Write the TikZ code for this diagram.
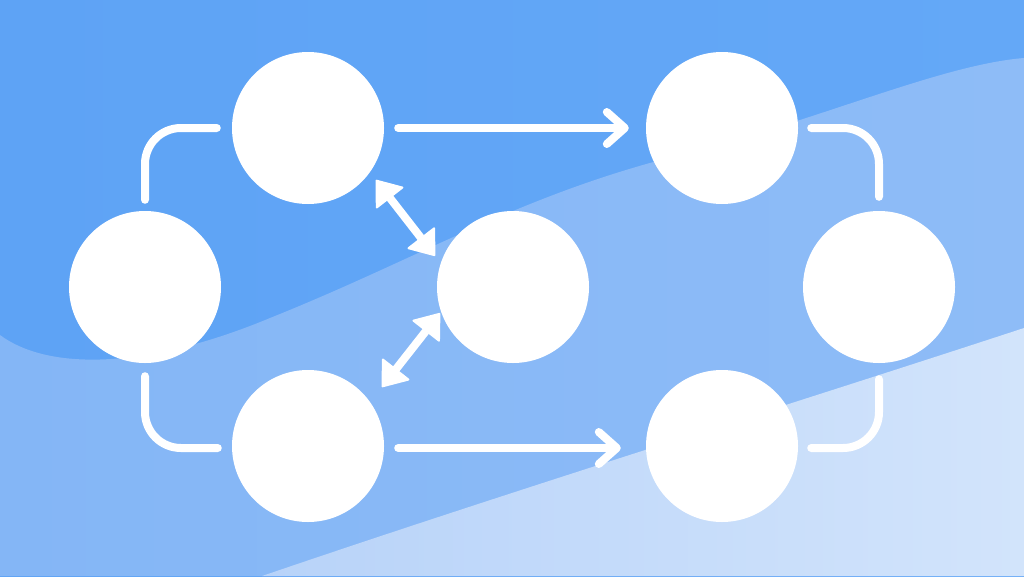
\documentclass[tikz,border=0pt]{standalone}
\usetikzlibrary{arrows.meta,calc}
\definecolor{bgtop}{HTML}{5EA3F5}
\definecolor{bgtopr}{HTML}{64A8F7}
\definecolor{bgmid}{HTML}{84B6F6}
\definecolor{bgmidr}{HTML}{8EBCF7}
\definecolor{bglow}{HTML}{B8D3F9}
\definecolor{bglowr}{HTML}{D2E4FB}
\tikzset{
  bubble/.style={circle, fill=white, minimum size=152pt, inner sep=0pt},
  link/.style={draw=white, line width=8pt, line cap=round, rounded corners=36pt},
  flow/.style={draw=white, line width=8pt, line cap=round,
    -{Straight Barb[length=18pt,width=32pt,line width=8pt,round]}},
  twoway/.style={draw=white, line width=8pt,
    {Triangle[length=24pt,width=36pt,line width=2pt,round]}-{Triangle[length=24pt,width=36pt,line width=2pt,round]}}
}
\begin{document}
\begin{tikzpicture}[x=1pt,y=-1pt]
\useasboundingbox (0,0) rectangle (1024,576);
% background
\shade[left color=bgtop, right color=bgtopr] (0,0) rectangle (1024,576);
\shade[left color=bgmid, right color=bgmidr]
  (0,335) .. controls (50,372) and (150,368) .. (270,318)
  .. controls (420,258) and (520,195) .. (680,155)
  .. controls (820,120) and (940,65) .. (1024,58)
  -- (1024,576) -- (0,576) -- cycle;
\shade[left color=bglow, right color=bglowr]
  (262,576) .. controls (520,488) and (780,408) .. (1024,328)
  -- (1024,576) -- cycle;
% nodes
\node[bubble] (A) at (145,287) {};
\node[bubble] (B) at (308,128) {};
\node[bubble] (C) at (308,446) {};
\node[bubble] (D) at (513,287) {};
\node[bubble] (E) at (722,128) {};
\node[bubble] (F) at (879,287) {};
\node[bubble] (G) at (722,446) {};
% curved links
\draw[link, shorten <=15pt, shorten >=11pt] (B.west) -| (A.north);
\draw[link, shorten <=13pt, shorten >=14pt] (A.south) |- ([yshift=-2pt]C.west);
\draw[link, shorten <=13pt, shorten >=14pt] (E.east) -| (F.north);
\draw[link, shorten <=16pt, shorten >=13pt] (F.south) |- ([yshift=-2pt]G.east);
% straight arrows
\draw[flow, shorten <=14pt, shorten >=17pt] (B.east) -- (E.west);
\draw[flow, shorten <=14pt, shorten >=25pt] ([yshift=-2pt]C.east) -- ([yshift=-2pt]G.west);
% double arrows
\draw[twoway] ([shift={(14pt,2pt)}]B.-45) -- ([shift={(-12pt,-7pt)}]D.150);
\draw[twoway] ([shift={(20pt,5pt)}]C.45) -- ([shift={(-7pt,12pt)}]D.210);
\end{tikzpicture}
\end{document}
